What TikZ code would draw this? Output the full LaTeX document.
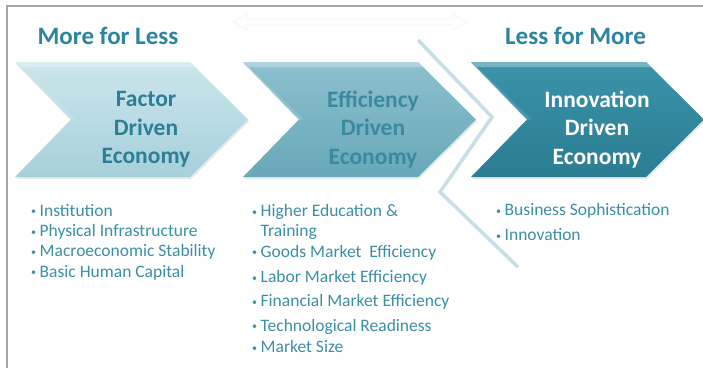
\documentclass[tikz,border=0pt]{standalone}
\usepackage{fontspec}
\setmainfont{Carlito}
\usetikzlibrary{shadows}
\definecolor{headc}{HTML}{2C84A0}
\definecolor{txtc}{HTML}{2C7F96}
\definecolor{bulc}{HTML}{3A8EA6}
\definecolor{divc}{HTML}{C5DFE5}
\definecolor{bordc}{HTML}{A6A6A6}
\definecolor{cAt}{HTML}{CCE6EC}
\definecolor{cAb}{HTML}{A6D0DA}
\definecolor{cBt}{HTML}{8DC0CE}
\definecolor{cBb}{HTML}{67A8B9}
\definecolor{cCt}{HTML}{3A94A9}
\definecolor{cCb}{HTML}{2A7C92}
\definecolor{faintc}{HTML}{F3F7F8}
\tikzset{
  heading/.style={font=\bfseries\fontsize{25}{25}\selectfont, text=headc, inner sep=0pt},
  chevtext/.style={font=\bfseries\fontsize{23.5}{28.5}\selectfont, align=center, inner sep=0pt},
  item/.style={font=\fontsize{17.5}{17.5}\selectfont, text=bulc, inner sep=0pt, anchor=base west},
  chevshadow/.style={drop shadow={opacity=0.18, shadow xshift=1pt, shadow yshift=-2pt}},
}
\newcommand{\bul}{\makebox[8.5pt][l]{\raisebox{1.4pt}{\fontsize{10}{10}\selectfont •}}}
\newcommand{\chevron}[3]{% x0, top colour, bottom colour
  \path[chevshadow, top color=#2, bottom color=#3]
    (#1,62) -- ++(175,0) -- ++(58,57.5) -- ++(-58,57.5) -- ++(-175,0) -- ++(56,-57.5) -- cycle;
  \fill[white, opacity=0.30]
    (#1,62) -- ++(175,0) -- ++(5,5) -- ++(-174,0) -- cycle;
  \fill[white, opacity=0.12]
    (#1,62) -- ++(6,5) -- ++(55,52.5) -- ++(-5,0) -- cycle;
}
\begin{document}
\begin{tikzpicture}[x=1pt,y=-1pt]
\useasboundingbox (0,0) rectangle (703,368);
% frame
\draw[bordc, line width=1.8pt] (7,368) -- (7,6) -- (703,6);
% faint double arrow
\draw[faintc, line width=0.8pt, fill=white]
  (233,22) -- (247,14) -- (247,19) -- (453,19) -- (453,14) -- (467,22)
  -- (453,30) -- (453,25) -- (247,25) -- (247,30) -- cycle;
% chevrons
\chevron{15}{cAt}{cAb}
\chevron{243}{cBt}{cBb}
\chevron{471}{cCt}{cCb}
% divider
\coordinate (d1) at (418,40);
\coordinate (d2) at (492,117);
\coordinate (d3) at (440,192);
\coordinate (d4) at (518,267);
\draw[divc, line width=3.5pt, line join=miter] (d1) -- (d2) -- (d3) -- (d4);
% headings
\node[heading, anchor=base] (h1) at (108,44) {More for Less};
\node[heading, anchor=base] (h2) at (575.5,44) {Less for More};
% chevron texts
\node[chevtext, text=txtc] (t1) at (146,129.5) {Factor\\Driven\\Economy};
\node[chevtext, text=txtc!85!cBt] (t2) at (373,129.5) {Efficiency\\Driven\\Economy};
\node[chevtext, text=white] (t3) at (597,129.5) {Innovation\\Driven\\Economy};
% column 1
\node[item] (a1) at (31,216) {\bul Institution};
\node[item] (a2) at (31,236.4) {\bul Physical Infrastructure};
\node[item] (a3) at (31,256.8) {\bul Macroeconomic Stability};
\node[item] (a4) at (31,277.2) {\bul Basic Human Capital};
% column 2
\node[item] (b1) at (252,216.7) {\bul Higher Education \&};
\node[item] (b1b) at (260.5,236.7) {Training};
\node[item] (b2) at (252,257) {\bul Goods Market\ \ Efficiency};
\node[item] (b3) at (252,282.7) {\bul Labor Market Efficiency};
\node[item] (b4) at (252,306.7) {\bul Financial Market Efficiency};
\node[item] (b5) at (252,331.3) {\bul Technological Readiness};
\node[item] (b6) at (252,352.7) {\bul Market Size};
% column 3
\node[item] (c1) at (496,215.7) {\bul Business Sophistication};
\node[item] (c2) at (496,240.7) {\bul Innovation};
\end{tikzpicture}
\end{document}
